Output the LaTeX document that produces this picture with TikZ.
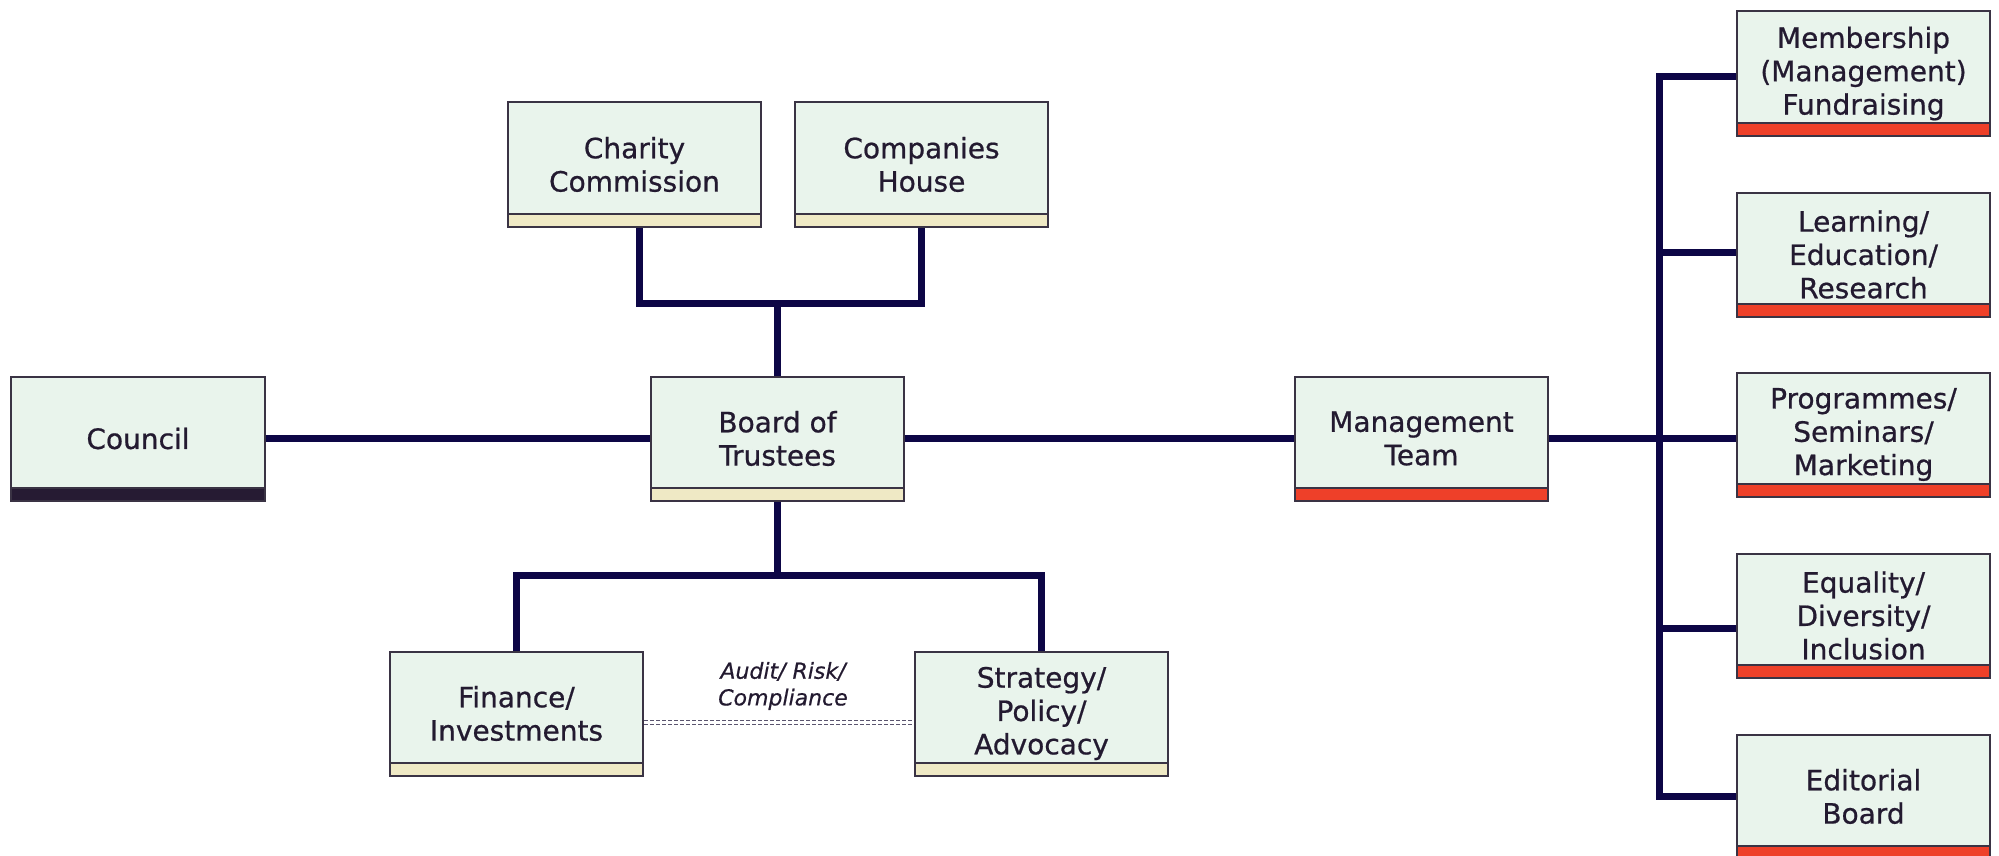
\documentclass[tikz,border=0pt]{standalone}
\usepackage{fontspec}
\setmainfont{DejaVu Sans}
\newfontfamily\boxfont{DejaVu Sans}[FakeBold=0.7]
\newfontfamily\notefont{DejaVu Sans Oblique}[FakeBold=0.6]
\definecolor{boxfill}{RGB}{233,244,236}
\definecolor{boxline}{RGB}{58,51,68}
\definecolor{creambar}{RGB}{239,233,197}
\definecolor{redbar}{RGB}{238,64,41}
\definecolor{darkbar}{RGB}{38,27,51}
\definecolor{linknavy}{RGB}{13,6,70}
\definecolor{inktext}{RGB}{35,26,48}
\definecolor{dashgrey}{RGB}{90,84,110}
\tikzset{
  orgbox/.style={draw=boxline, fill=boxfill, line width=1.5pt, text=inktext,
    minimum width=190pt, minimum height=93pt, inner sep=0pt, align=center,
    font=\boxfont\fontsize{21}{25}\selectfont,
    path picture={
      \fill[#1] (path picture bounding box.south west) rectangle ([yshift=9.5pt]path picture bounding box.south east);
      \draw[boxline, line width=1pt] ([yshift=9.5pt]path picture bounding box.south west) -- ([yshift=9.5pt]path picture bounding box.south east);}},
  link/.style={draw=linknavy, line width=5.25pt, line join=miter},
  auditline/.style={draw=dashgrey, line width=0.9pt, double=white, double distance=2.4pt, dash pattern=on 3pt off 1.5pt},
  auditlabel/.style={text=inktext, align=center, inner sep=0pt, font=\notefont\fontsize{16.5}{20}\selectfont},
}
\begin{document}
\begin{tikzpicture}[x=0.75pt,y=0.75pt,yscale=-1,xscale=1]
\useasboundingbox (0,0) rectangle (1999,856);

% Boxes
\node[orgbox=darkbar] (council) at (138,438.5) {Council};
\node[orgbox=creambar] (board) at (777.5,438.5) {Board of\\Trustees};
\node[orgbox=creambar] (charity) at (634.5,164.5) {Charity\\Commission};
\node[orgbox=creambar] (companies) at (921.5,164.5) {Companies\\House};
\node[orgbox=creambar] (finance) at (516.5,713.5) {Finance/\\Investments};
\node[orgbox=creambar] (strategy) at (1041.5,713.5) {Strategy/\\Policy/\\Advocacy};
\node[orgbox=redbar] (mgmt) at (1421.5,438.5) {Management\\Team};
% Right column
\node[orgbox=redbar] (member) at (1863.5,73.5) {Membership\\(Management)\\Fundraising};
\node[orgbox=redbar] (learning) at (1863.5,254.5) {Learning/\\Education/\\Research};
\node[orgbox=redbar] (progs) at (1863.5,434.5) {Programmes/\\Seminars/\\Marketing};
\node[orgbox=redbar] (equality) at (1863.5,615.5) {Equality/\\Diversity/\\Inclusion};
\node[orgbox=redbar] (editorial) at (1863.5,796.5) {Editorial\\Board};

% Main row
\draw[link] (council.east) -- (board.west);
\draw[link] (board.east) -- (mgmt.west);

% Regulators
\coordinate (topj) at (777.5,303);
\draw[link] ([xshift=4pt]charity.south) |- (topj) -| (companies.south);
\draw[link] (topj) -- (board.north);

% Committees
\coordinate (botj) at (777.5,575);
\draw[link] (finance.north) |- (botj) -| (strategy.north);
\draw[link] (board.south) -- (botj);

% Audit link
\coordinate (aud) at (777.5,722.5);
\draw[auditline] (aud -| finance.east) -- (aud -| strategy.west);
\node[auditlabel] (audit) at (783,686) {Audit/ Risk/\\Compliance};

% Trunk to the teams
\foreach \y [count=\i] in {77,252,438.5,628,796}
  \coordinate (br\i) at (1659,\y);
\draw[link] (br1 -| member.west) -- (br1) -- (br5) -- (br5 -| editorial.west);
\foreach \n [count=\i] in {learning,progs,equality}
  \draw[link] (br\the\numexpr\i+1\relax) -- (br\the\numexpr\i+1\relax -| \n.west);
\draw[link] (mgmt.east) -- (br3);

\end{tikzpicture}
\end{document}
